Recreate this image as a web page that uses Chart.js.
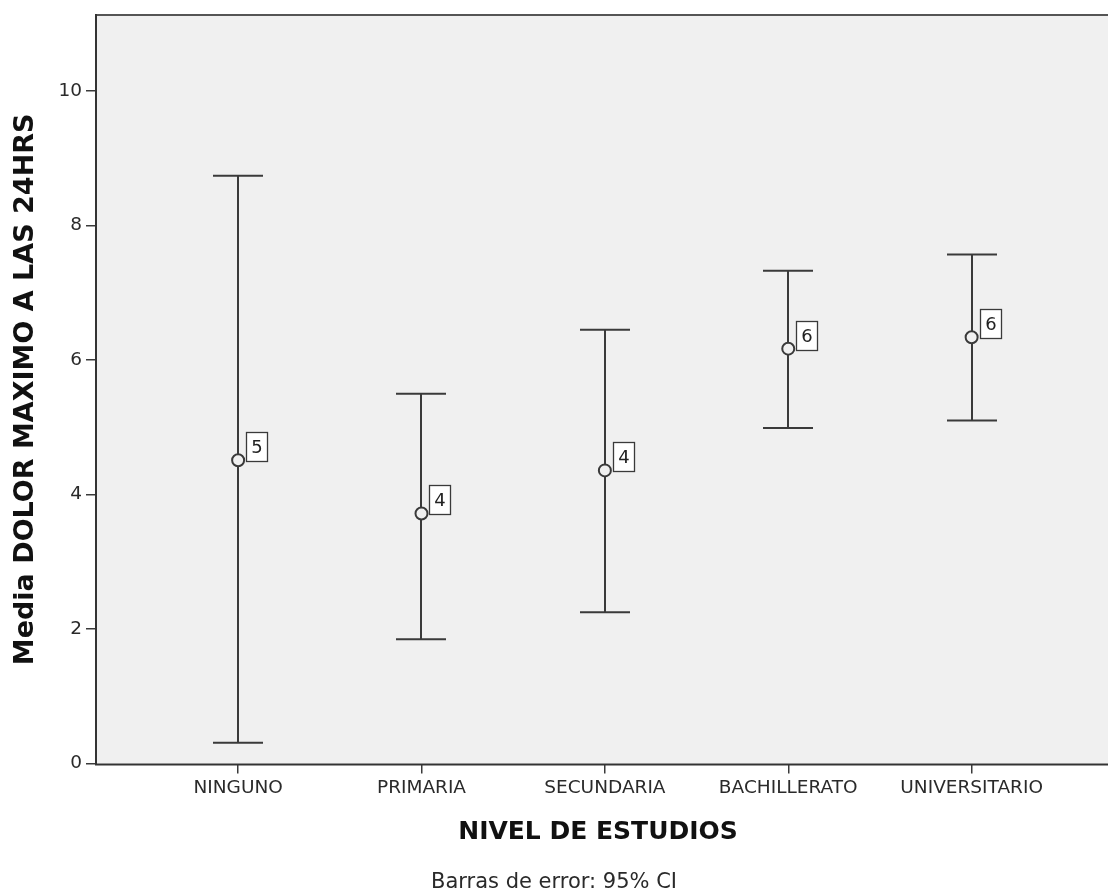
<!DOCTYPE html>
<html>
<head>
<meta charset="utf-8">
<script src="https://cdn.jsdelivr.net/npm/chart.js@4.4.1/dist/chart.umd.min.js"></script>
<style>
  html, body { margin: 0; padding: 0; background: #ffffff; }
  #c { display: block; }
</style>
</head>
<body>
<canvas id="c" width="1108" height="895"></canvas>
<script>
// Nivel de estudios vs. dolor máximo a las 24 h: media con IC 95 %
const categories = ['NINGUNO', 'PRIMARIA', 'SECUNDARIA', 'BACHILLERATO', 'UNIVERSITARIO'];
const means      = [4.51, 3.72, 4.36, 6.17, 6.34];
const ciLower    = [0.31, 1.85, 2.25, 4.99, 5.10];
const ciUpper    = [8.74, 5.50, 6.45, 7.33, 7.57];
const meanLabels = ['5', '4', '4', '6', '6'];
const yTicks     = [0, 2, 4, 6, 8, 10];

const FONT = "'DejaVu Sans', 'Open Sans', sans-serif";
const INK = '#3a3a3a';

// plot background, frame, error bars and boxed value labels
const spssDecor = {
  id: 'spssDecor',
  beforeDraw(chart) {
    const { ctx, chartArea: a } = chart;
    ctx.save();
    ctx.fillStyle = '#ffffff';
    ctx.fillRect(0, 0, chart.width, chart.height);
    ctx.fillStyle = '#f0f0f0';
    ctx.fillRect(a.left, a.top, chart.width - a.left, a.bottom - a.top);
    ctx.strokeStyle = '#555555';
    ctx.lineWidth = 2;
    ctx.beginPath();
    ctx.moveTo(a.left, a.top);
    ctx.lineTo(chart.width, a.top);
    ctx.stroke();
    ctx.restore();
  },
  afterDraw(chart) {
    // bottom edge of the frame, running on to the right border of the canvas
    const { ctx, chartArea: a } = chart;
    ctx.save();
    ctx.strokeStyle = '#333333';
    ctx.lineWidth = 2;
    ctx.beginPath();
    ctx.moveTo(a.left - 1, a.bottom + 1);
    ctx.lineTo(chart.width, a.bottom + 1);
    ctx.stroke();
    ctx.restore();
  },
  beforeDatasetsDraw(chart) {
    const { ctx, scales: { x, y } } = chart;
    ctx.save();
    ctx.strokeStyle = INK;
    ctx.lineWidth = 2;
    const half = 25;
    categories.forEach((c, i) => {
      const px = Math.round(x.getPixelForValue(i + 1));
      const top = y.getPixelForValue(ciUpper[i]);
      const bot = y.getPixelForValue(ciLower[i]);
      ctx.beginPath();
      ctx.moveTo(px, top);
      ctx.lineTo(px, bot);
      ctx.moveTo(px - half, top);
      ctx.lineTo(px + half, top);
      ctx.moveTo(px - half, bot);
      ctx.lineTo(px + half, bot);
      ctx.stroke();
    });
    ctx.restore();
  },
  afterDatasetsDraw(chart) {
    const { ctx, scales: { x, y } } = chart;
    ctx.save();
    ctx.font = '18px ' + FONT;
    ctx.textAlign = 'center';
    ctx.textBaseline = 'middle';
    categories.forEach((c, i) => {
      const px = x.getPixelForValue(i + 1);
      const py = y.getPixelForValue(means[i]);
      const w = 21, h = 29;
      const bx = Math.round(px + 8) + 0.5;
      const by = Math.round(py - h + 1) + 0.5;
      ctx.fillStyle = '#ffffff';
      ctx.fillRect(bx, by, w, h);
      ctx.strokeStyle = INK;
      ctx.lineWidth = 1.3;
      ctx.strokeRect(bx, by, w, h);
      ctx.fillStyle = '#222222';
      ctx.fillText(meanLabels[i], bx + w / 2, by + h / 2 + 1);
    });
    ctx.restore();
  }
};

new Chart(document.getElementById('c'), {
  type: 'scatter',
  data: {
    datasets: [{
      data: means.map((m, i) => ({ x: i + 1, y: m })),
      pointRadius: 6,
      pointHoverRadius: 6,
      pointBorderWidth: 2,
      pointBorderColor: INK,
      pointBackgroundColor: '#f0f0f0'
    }]
  },
  options: {
    responsive: false,
    animation: false,
    devicePixelRatio: 1,
    layout: { padding: { top: 13, right: 0, left: 0, bottom: 0 } },
    plugins: {
      legend: { display: false },
      tooltip: { enabled: false },
      title: {
        display: true,
        position: 'bottom',
        text: 'Barras de error: 95% CI',
        color: '#2a2a2a',
        font: { family: FONT, size: 21, weight: 'normal' },
        padding: { top: 22, bottom: 0 }
      }
    },
    scales: {
      x: {
        type: 'linear',
        min: 0.225,
        max: 5.70,
        afterBuildTicks(scale) { scale.ticks = categories.map((c, i) => ({ value: i + 1 })); },
        ticks: {
          callback: (v) => categories[v - 1],
          color: '#2a2a2a',
          font: { family: FONT, size: 18.5 },
          padding: 3,
          maxRotation: 0,
          autoSkip: false
        },
        grid: { drawOnChartArea: false, drawTicks: true, tickLength: 10, color: INK, lineWidth: 1.5 },
        border: { display: false },
        title: {
          display: true,
          text: 'NIVEL DE ESTUDIOS',
          color: '#111111',
          font: { family: FONT, size: 25, weight: 'bold' },
          padding: { top: 16, bottom: 0 }
        }
      },
      y: {
        min: 0,
        max: 11.13,
        afterBuildTicks(scale) { scale.ticks = yTicks.map(v => ({ value: v })); },
        afterFit(scale) { scale.width = 96; },
        ticks: {
          color: '#2a2a2a',
          font: { family: FONT, size: 18.5 },
          padding: 4
        },
        grid: { drawOnChartArea: false, drawTicks: true, tickLength: 10, color: INK, lineWidth: 1.5 },
        border: { color: '#333333', width: 2 },
        title: {
          display: true,
          text: 'Media DOLOR MAXIMO A LAS 24HRS',
          color: '#111111',
          font: { family: FONT, size: 27, weight: 'bold' },
          padding: { top: 10, bottom: 0 }
        }
      }
    }
  },
  plugins: [spssDecor]
});
</script>
</body>
</html>
